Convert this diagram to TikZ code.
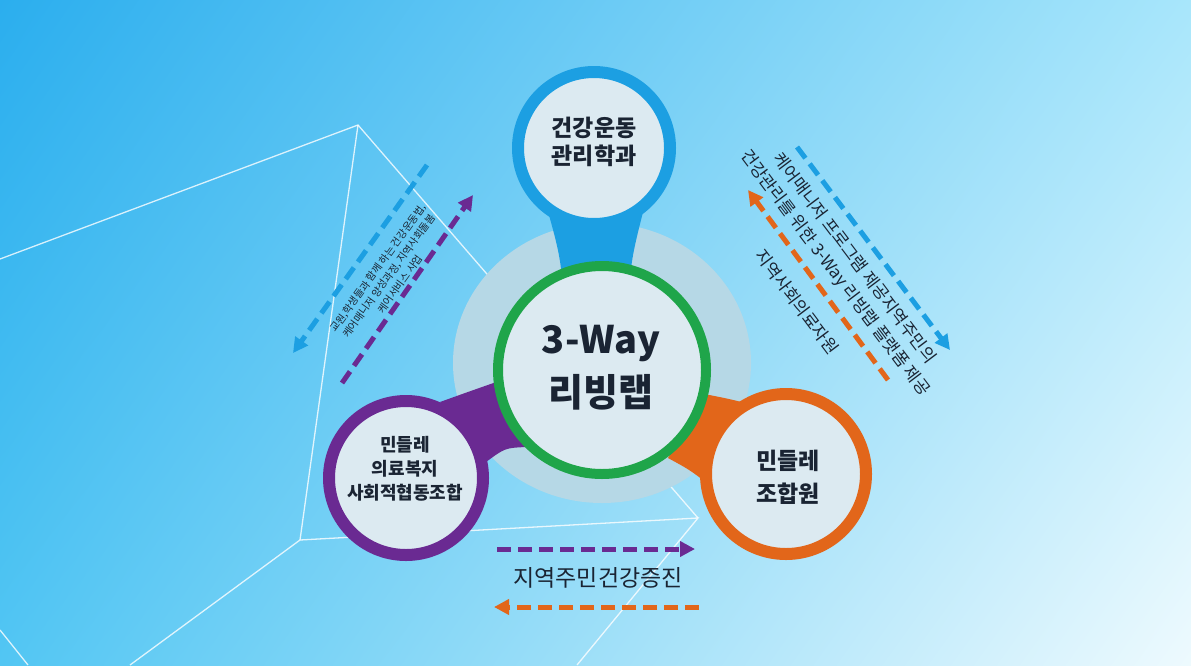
\documentclass[tikz,border=0pt]{standalone}
\usepackage{fontspec}
\setmainfont{Noto Sans CJK KR}
\usetikzlibrary{arrows.meta,shadings}
\definecolor{cblue}{HTML}{1C9FE2}
\definecolor{cpurple}{HTML}{6A2A92}
\definecolor{corange}{HTML}{E2661A}
\definecolor{cgreen}{HTML}{1FA54A}
\definecolor{cfill}{HTML}{DCEAF1}
\definecolor{chalo}{HTML}{B6D8E6}
\definecolor{ctext}{HTML}{1A2433}
\definecolor{bgUL}{HTML}{2BAEEE}
\definecolor{bgUR}{HTML}{A8E6FB}
\definecolor{bgLL}{HTML}{52C6F3}
\definecolor{bgLR}{HTML}{EEFAFE}
\tikzset{
  bgline/.style={white, line width=1.3pt, opacity=0.8},
  ring/.style={circle, draw=#1, fill=cfill, line width=12pt, inner sep=0pt},
  darrow/.style={draw=#1, line width=5pt, dash pattern=on 14pt off 7pt,
    -{Triangle[length=15pt,width=15pt,fill=#1]}},
  bigtxt/.style={text=ctext, font=\bfseries, align=center},
  smalltxt/.style={text=ctext, align=center, inner sep=0pt}
}
\begin{document}
\begin{tikzpicture}[x=1pt,y=-1pt]
\useasboundingbox (0,0) rectangle (1191,665);
\shade[upper left=bgUL, upper right=bgUR, lower left=bgLL, lower right=bgLR] (0,0) rectangle (1191,665);
% background white lines
\draw[bgline] (0,259) -- (358,125) -- (698,518);
\draw[bgline] (358,125) -- (300,540);
\draw[bgline] (130,665) -- (300,540) -- (698,518) -- (577,665);
\draw[bgline] (0,630) -- (28,665);
% halo
\fill[chalo] (602,363) ellipse [x radius=149, y radius=140];
% stems
\fill[cblue] (547,208) .. controls (556,240) and (560,255) .. (562,278) -- (630,278) .. controls (632,255) and (636,240) .. (644,208) -- cycle;
\fill[cpurple] (440,402) .. controls (465,393) .. (502,380) -- (526,447) .. controls (505,448) .. (486,462) -- cycle;
\fill[corange] (704,394) .. controls (725,398) .. (750,404) -- (708,484) .. controls (690,470) .. (668,458) -- cycle;
% satellite circles
\node[ring=cblue, minimum size=152pt] (blue) at (594,148) {};
\node[ring=cpurple, minimum size=154pt] (purple) at (406,478) {};
\node[ring=corange, minimum size=160pt] (orange) at (786,474) {};
\node[circle, draw=cgreen, fill=cfill, line width=10pt, inner sep=0pt, minimum size=208pt] (green) at (602,370) {};
% circle texts
\node[bigtxt, font=\fontsize{23}{28}\bfseries] (tblue) at (594,142) {건강운동\\관리학과};
\node[bigtxt, font=\fontsize{38}{53}\bfseries] (tgreen) at (601,368) {3-Way\\리빙랩};
\node[bigtxt, font=\fontsize{18}{24}\bfseries] (tpurple) at (405,469) {민들레\\의료복지\\사회적협동조합};
\node[bigtxt, font=\fontsize{23}{33}\bfseries] (torange) at (788,477) {민들레\\조합원};
% left arrows and text
\coordinate (lb1) at (427,165); \coordinate (lb2) at (293,353);
\coordinate (lp1) at (342,383); \coordinate (lp2) at (473,195);
\draw[darrow=cblue] (lb1) -- (lb2);
\draw[darrow=cpurple] (lp1) -- (lp2);
\node[smalltxt, rotate=54, font=\fontsize{10.3}{13.8}\selectfont] (tleft) at (389,276)
  {교원,학생들과 함께 하는 건강운동법,\\케어매니저 양성과정, 지역사회돌봄\\케어서비스 사업};
% right arrows and text
\coordinate (rb1) at (797,147); \coordinate (rb2) at (950,350);
\coordinate (ro1) at (888,380); \coordinate (ro2) at (748,190);
\draw[darrow=cblue] (rb1) -- (rb2);
\draw[darrow=corange] (ro1) -- (ro2);
\node[smalltxt, rotate=-53, font=\fontsize{17}{20}\selectfont] (tra) at (855,258) {케어매니저 프로그램 제공지역주민의};
\node[smalltxt, rotate=-53, font=\fontsize{17}{20}\selectfont] (trb) at (835,273) {건강관리를 위한 3-Way 리빙랩 플랫폼 제공};
\node[smalltxt, rotate=-53, font=\fontsize{17}{20}\selectfont] (trc) at (797,302) {지역사회의료자원};
% bottom arrows and text
\coordinate (bp1) at (497,549); \coordinate (bp2) at (695,549);
\coordinate (bo1) at (699,607); \coordinate (bo2) at (494,607);
\draw[darrow=cpurple] (bp1) -- (bp2);
\draw[darrow=corange] (bo1) -- (bo2);
\node[smalltxt, font=\fontsize{23}{28}\selectfont] (tbottom) at (598,578) {지역주민건강증진};
\end{tikzpicture}
\end{document}
